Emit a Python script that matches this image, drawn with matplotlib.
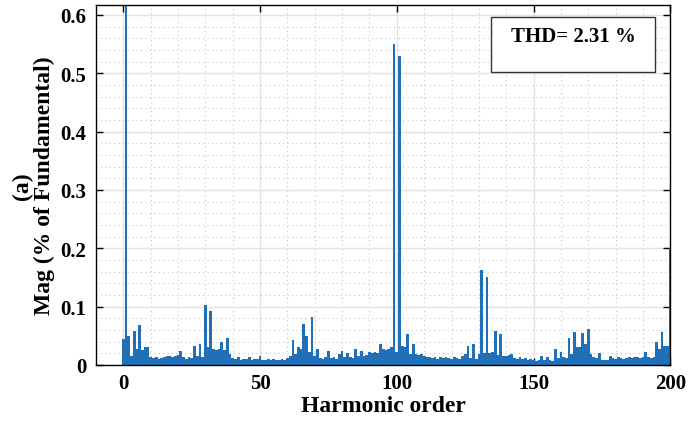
import numpy as np
import matplotlib
matplotlib.use("Agg")
import matplotlib.pyplot as plt
from matplotlib.ticker import MultipleLocator, FuncFormatter
from matplotlib.patches import Rectangle

# harmonic orders 0..200 and magnitude (% of fundamental)
orders = list(range(0, 201))
mag_0_49 = [0.045, 100, 0.050, 0.016, 0.059, 0.027, 0.068, 0.025, 0.030, 0.030,
            0.013, 0.012, 0.014, 0.011, 0.012, 0.013, 0.015, 0.016, 0.014, 0.016,
            0.017, 0.024, 0.013, 0.011, 0.014, 0.012, 0.033, 0.015, 0.036, 0.013,
            0.102, 0.030, 0.093, 0.027, 0.025, 0.028, 0.039, 0.025, 0.047, 0.019,
            0.012, 0.010, 0.013, 0.009, 0.011, 0.010, 0.014, 0.009, 0.010, 0.011]
mag_50_99 = [0.015, 0.008, 0.009, 0.010, 0.008, 0.011, 0.009, 0.008, 0.010, 0.009,
             0.012, 0.015, 0.042, 0.019, 0.030, 0.028, 0.070, 0.050, 0.022, 0.082,
             0.015, 0.027, 0.012, 0.011, 0.013, 0.024, 0.012, 0.014, 0.011, 0.018,
             0.024, 0.013, 0.021, 0.013, 0.012, 0.027, 0.016, 0.024, 0.016, 0.017,
             0.022, 0.020, 0.023, 0.021, 0.036, 0.027, 0.025, 0.028, 0.030, 0.550]
mag_100_149 = [0.022, 0.530, 0.033, 0.031, 0.053, 0.019, 0.036, 0.018, 0.017, 0.019,
               0.016, 0.013, 0.014, 0.012, 0.013, 0.011, 0.013, 0.012, 0.014, 0.012,
               0.011, 0.013, 0.012, 0.010, 0.015, 0.018, 0.033, 0.012, 0.036, 0.010,
               0.018, 0.162, 0.020, 0.150, 0.020, 0.022, 0.059, 0.017, 0.053, 0.016,
               0.015, 0.017, 0.018, 0.012, 0.011, 0.013, 0.010, 0.012, 0.009, 0.011]
mag_150_200 = [0.008, 0.007, 0.009, 0.016, 0.008, 0.013, 0.008, 0.007, 0.027, 0.012,
               0.023, 0.013, 0.012, 0.047, 0.019, 0.056, 0.030, 0.031, 0.055, 0.036,
               0.062, 0.019, 0.013, 0.012, 0.021, 0.008, 0.009, 0.008, 0.016, 0.012,
               0.011, 0.013, 0.012, 0.011, 0.012, 0.013, 0.012, 0.013, 0.014, 0.012,
               0.014, 0.023, 0.013, 0.012, 0.014, 0.039, 0.027, 0.056, 0.033, 0.033,
               0.200]
mag = mag_0_49 + mag_50_99 + mag_100_149 + mag_150_200

thd_text = "THD= 2.31 %"

plt.rcParams['font.family'] = ['Liberation Serif', 'DejaVu Serif']
plt.rcParams['font.weight'] = 'bold'

fig = plt.figure(figsize=(6.88, 4.27), dpi=100)
ax = fig.add_axes([0.1395, 0.1429, 0.8348, 0.8431])

ax.bar(orders, mag, width=1.0, color='#1f70b8', edgecolor='none')

ax.set_xlim(-10, 200)
ax.set_ylim(0, 0.617)
ax.xaxis.set_major_locator(MultipleLocator(50))
ax.xaxis.set_minor_locator(MultipleLocator(10))
ax.yaxis.set_major_locator(MultipleLocator(0.1))
ax.yaxis.set_minor_locator(MultipleLocator(0.02))
ax.yaxis.set_major_formatter(FuncFormatter(lambda v, p: '0' if abs(v) < 1e-9 else '%g' % round(v, 2)))

ax.set_axisbelow(True)
ax.grid(which='major', color='#e3e3e3', linestyle='-', linewidth=1.0)
ax.grid(which='minor', color='#c4c4c4', linestyle=(0, (1, 3)), linewidth=0.8)

ax.tick_params(which='major', direction='in', top=True, right=True,
               length=5, width=1, labelsize=15)
ax.tick_params(axis='x', which='major', pad=6)
ax.tick_params(axis='y', which='major', pad=7)
ax.tick_params(which='minor', length=0)
for lab in ax.get_xticklabels() + ax.get_yticklabels():
    lab.set_fontweight('bold')
for s in ax.spines.values():
    s.set_linewidth(1.0)

ax.set_xlabel('Harmonic order', fontsize=17, fontweight='bold', labelpad=1)
ax.set_ylabel('(a)\nMag (% of Fundamental)', fontsize=17, fontweight='bold',
              linespacing=1.0, labelpad=4)

# THD annotation box
ax.add_patch(Rectangle((0.688, 0.814), 0.286, 0.153, transform=ax.transAxes,
                       facecolor='white', edgecolor='#333333', linewidth=1.0, zorder=5))
ax.text(0.831, 0.915, thd_text, transform=ax.transAxes, ha='center', va='center',
        fontsize=15, fontweight='bold', zorder=6)

fig.savefig('out.png', dpi=100)
